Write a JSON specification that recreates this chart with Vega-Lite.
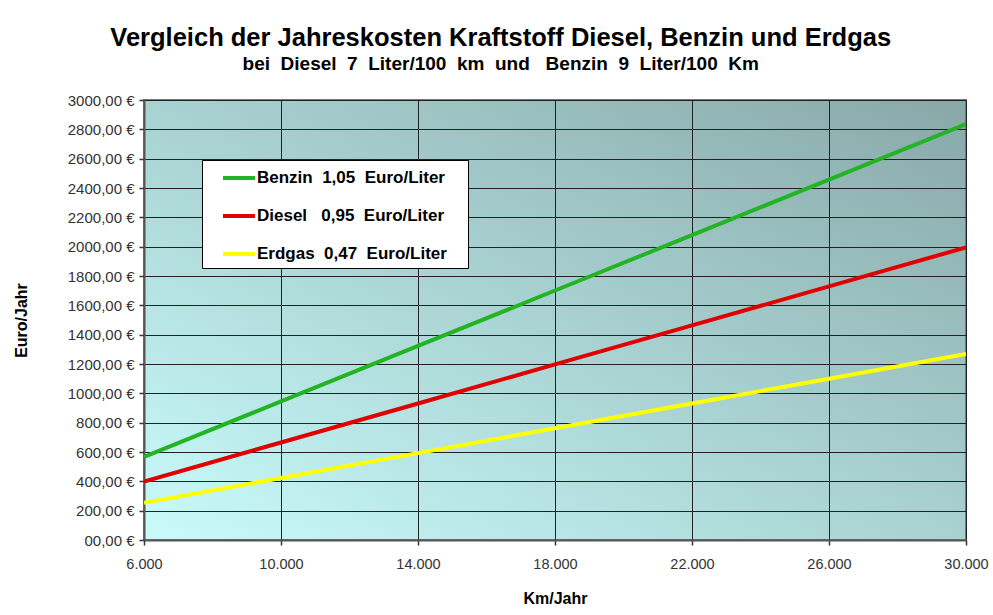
{
  "$schema": "https://vega.github.io/schema/vega-lite/v6.json",
  "width": 822,
  "height": 440,
  "autosize": {"type": "none"},
  "padding": {"left": 144, "top": 100, "right": 27, "bottom": 75},
  "background": "white",
  "title": {
    "text": "Vergleich der Jahreskosten Kraftstoff Diesel, Benzin und Erdgas",
    "subtitle": "bei\u00a0\u00a0Diesel\u00a0\u00a07\u00a0\u00a0Liter/100\u00a0\u00a0km\u00a0\u00a0und\u00a0\u00a0\u00a0Benzin\u00a0\u00a09\u00a0\u00a0Liter/100\u00a0\u00a0Km",
    "anchor": "middle",
    "frame": "bounds",
    "font": "Liberation Sans",
    "fontSize": 25.5,
    "fontWeight": "bold",
    "color": "black",
    "subtitleFont": "Liberation Sans",
    "subtitleFontSize": 19,
    "subtitleFontWeight": "bold",
    "subtitleColor": "black",
    "subtitlePadding": 4,
    "offset": 19
  },
  "data": {
    "values": [
      {"km": 6000, "kosten": 567, "kraftstoff": "Benzin"},
      {"km": 10000, "kosten": 945, "kraftstoff": "Benzin"},
      {"km": 14000, "kosten": 1323, "kraftstoff": "Benzin"},
      {"km": 18000, "kosten": 1701, "kraftstoff": "Benzin"},
      {"km": 22000, "kosten": 2079, "kraftstoff": "Benzin"},
      {"km": 26000, "kosten": 2457, "kraftstoff": "Benzin"},
      {"km": 30000, "kosten": 2835, "kraftstoff": "Benzin"},
      {"km": 6000, "kosten": 399, "kraftstoff": "Diesel"},
      {"km": 10000, "kosten": 665, "kraftstoff": "Diesel"},
      {"km": 14000, "kosten": 931, "kraftstoff": "Diesel"},
      {"km": 18000, "kosten": 1197, "kraftstoff": "Diesel"},
      {"km": 22000, "kosten": 1463, "kraftstoff": "Diesel"},
      {"km": 26000, "kosten": 1729, "kraftstoff": "Diesel"},
      {"km": 30000, "kosten": 1995, "kraftstoff": "Diesel"},
      {"km": 6000, "kosten": 253.8, "kraftstoff": "Erdgas"},
      {"km": 10000, "kosten": 423, "kraftstoff": "Erdgas"},
      {"km": 14000, "kosten": 592.2, "kraftstoff": "Erdgas"},
      {"km": 18000, "kosten": 761.4, "kraftstoff": "Erdgas"},
      {"km": 22000, "kosten": 930.6, "kraftstoff": "Erdgas"},
      {"km": 26000, "kosten": 1099.8, "kraftstoff": "Erdgas"},
      {"km": 30000, "kosten": 1269, "kraftstoff": "Erdgas"}
    ]
  },
  "mark": {"type": "line", "strokeWidth": 4, "clip": true},
  "encoding": {
    "x": {
      "field": "km",
      "type": "quantitative",
      "scale": {"domain": [6000, 30000], "nice": false, "zero": false},
      "axis": {
        "title": "Km/Jahr",
        "values": [6000, 10000, 14000, 18000, 22000, 26000, 30000],
        "labelExpr": "replace(format(datum.value, ','), ',', '.')",
        "labelFlush": false,
        "labelOverlap": false,
        "grid": true
      }
    },
    "y": {
      "field": "kosten",
      "type": "quantitative",
      "scale": {"domain": [0, 3000], "nice": false},
      "axis": {
        "title": "Euro/Jahr",
        "values": [0, 200, 400, 600, 800, 1000, 1200, 1400, 1600, 1800, 2000, 2200, 2400, 2600, 2800, 3000],
        "labelExpr": "datum.value == 0 ? '00,00 €' : datum.value + ',00 €'",
        "labelFlush": false,
        "labelOverlap": false,
        "grid": true
      }
    },
    "color": {
      "field": "kraftstoff",
      "type": "nominal",
      "scale": {
        "domain": ["Benzin", "Diesel", "Erdgas"],
        "range": ["#22b422", "#e00000", "#ffff00"]
      },
      "legend": {
        "orient": "none",
        "legendX": 58,
        "legendY": 60,
        "direction": "vertical",
        "title": null,
        "fillColor": "white",
        "strokeColor": "black",
        "padding": 6,
        "symbolType": "M0.3,0L3.5,0",
        "symbolStrokeWidth": 4,
        "symbolSize": 400,
        "symbolOpacity": 1,
        "labelFont": "Liberation Sans",
        "labelFontSize": 17,
        "labelFontWeight": "bold",
        "labelColor": "black",
        "labelOffset": 25,
        "labelLimit": 0,
        "rowPadding": 18,
        "labelExpr": "datum.value == 'Benzin' ? 'Benzin\u00a0\u00a01,05\u00a0\u00a0Euro/Liter\u00a0\u00a0\u00a0\u200b' : datum.value == 'Diesel' ? 'Diesel\u00a0\u00a0\u00a00,95\u00a0\u00a0Euro/Liter\u00a0\u00a0\u00a0\u200b' : 'Erdgas\u00a0\u00a00,47\u00a0\u00a0Euro/Liter\u00a0\u00a0\u00a0\u200b'"
      }
    }
  },
  "config": {
    "view": {
      "fill": {
        "gradient": "linear",
        "x1": 0, "y1": 1, "x2": 1, "y2": 0,
        "stops": [
          {"offset": 0, "color": "#c9fbfb"},
          {"offset": 1, "color": "#88a8a8"}
        ]
      },
      "stroke": "#777777",
      "strokeWidth": 2
    },
    "axis": {
      "labelFont": "Liberation Sans",
      "labelColor": "#333333",
      "titleFont": "Liberation Sans",
      "titleFontSize": 16,
      "titleFontWeight": "bold",
      "titleColor": "black",
      "gridColor": "#222222",
      "gridOpacity": 1,
      "gridWidth": 1,
      "domainColor": "#555555",
      "domainWidth": 2,
      "tickColor": "#333333",
      "tickSize": 5,
      "tickWidth": 1.5
    },
    "axisX": {"labelFontSize": 14.5, "labelPadding": 12, "titlePadding": 20},
    "axisY": {"labelFontSize": 15, "labelPadding": 5, "titlePadding": 38}
  }
}
